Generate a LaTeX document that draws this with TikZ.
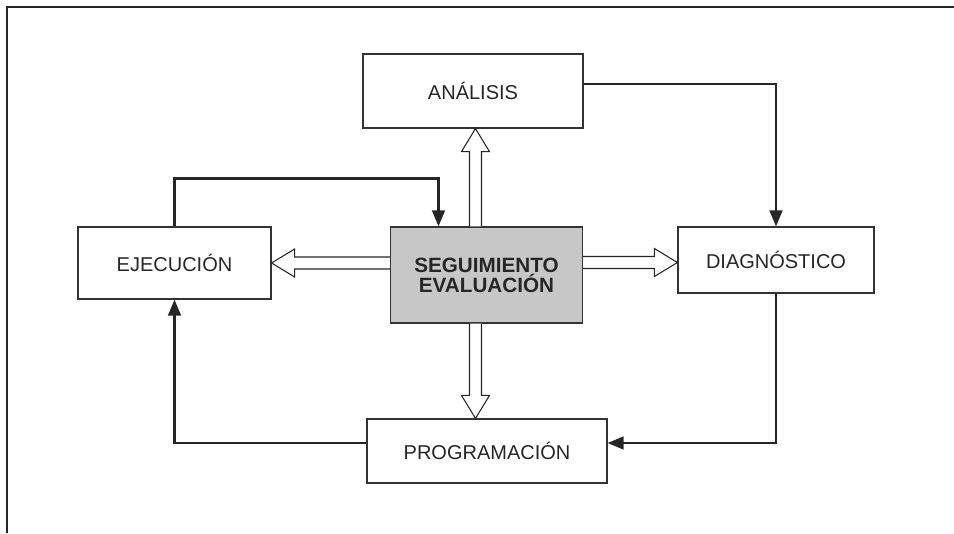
\documentclass[tikz,border=0pt]{standalone}
\usepackage{fontspec}
\setmainfont{Liberation Sans}
\usepackage{tikz}
\usetikzlibrary{calc}
\usetikzlibrary{arrows.meta}

\newcommand{\hollowarrow}[2]{% #1 base, #2 tip
  \draw[hollow] ($(#1)!4.5pt!90:(#2)$)
    -- ($(#2)!17.25pt!(#1)!4.5pt!-90:(#1)$)
    -- ($(#2)!17.25pt!(#1)!10.5pt!-90:(#1)$)
    -- (#2)
    -- ($(#2)!17.25pt!(#1)!10.5pt!90:(#1)$)
    -- ($(#2)!17.25pt!(#1)!4.5pt!90:(#1)$)
    -- ($(#1)!4.5pt!-90:(#2)$);}

\begin{document}
\begin{tikzpicture}[x=0.75pt,y=-0.75pt]
        \tikzset{box/.style={draw=black!80,line width=0.9pt,fill=white,inner sep=0pt,text=black!85,font=\fontsize{15}{17}\selectfont,align=center},
                 flow/.style={draw=black!85,line width=1.8pt,-{Triangle[length=12pt,width=9.5pt]}},
                 hollow/.style={draw=black!85,line width=0.8pt,fill=white,line join=miter}}
        
        \useasboundingbox (0,0) rectangle (954,533);
        
        %frame
        \draw[line width=2pt,black!85] (7,533) -- (7,7) -- (954,7);
        
        %boxes
        \node[box,minimum width=165pt,minimum height=55.5pt] (ana) at (473,91) {ANÁLISIS};
        \node[box,fill=black!22,minimum width=144pt,minimum height=72pt,font=\bfseries\fontsize{15.5}{15}\selectfont] (seg) at (486.5,275) {SEGUIMIENTO\\EVALUACIÓN};
        \node[box,minimum width=144.75pt,minimum height=54pt] (eje) at (174.5,263) {EJECUCIÓN};
        \node[box,minimum width=147pt,minimum height=49.5pt] (diag) at (776,260) {DIAGNÓSTICO};
        \node[box,minimum width=180pt,minimum height=48pt] (prog) at (487,451) {PROGRAMACIÓN};
        
        %hollow arrows out of the centre
        \coordinate (up_base) at ($(seg.north)+(-11,0)$);
        \coordinate (up_tip) at (up_base |- ana.south);
        \coordinate (down_base) at ($(seg.south)+(-11,0)$);
        \coordinate (down_tip) at (down_base |- prog.north);
        \coordinate (right_tip) at ($(diag.west)+(0,2.5)$);
        \coordinate (right_base) at (seg.east |- right_tip);
        \coordinate (left_tip) at (eje.east);
        \coordinate (left_base) at (seg.west |- left_tip);
        \hollowarrow{up_base}{up_tip}
        \hollowarrow{down_base}{down_tip}
        \hollowarrow{right_base}{right_tip}
        \hollowarrow{left_base}{left_tip}
        
        %cycle
        \draw[flow] (eje.north) |- ($(seg.north)+(-48,-48)$) -- ($(seg.north)+(-48,0)$);
        \draw[flow] ($(ana.east)+(0,-7)$) -| (diag.north);
        \draw[flow] (diag.south) |- ($(prog.east)+(0,-8)$);
        \draw[flow] ($(prog.west)+(0,-8)$) -| (eje.south);
\end{tikzpicture}
\end{document}
